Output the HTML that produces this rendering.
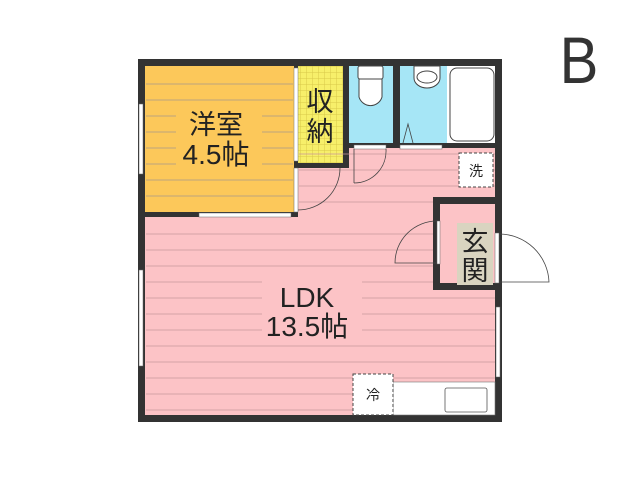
<!DOCTYPE html>
<html><head><meta charset="utf-8"><style>
html,body{margin:0;padding:0;background:#fff;}
svg{display:block;}
text{font-family:"Liberation Sans","Noto Sans CJK JP",sans-serif;}
</style></head><body>
<svg width="640" height="480" viewBox="0 0 640 480" xmlns="http://www.w3.org/2000/svg">
<defs>
<pattern id="grid" width="6" height="6" patternUnits="userSpaceOnUse">
<rect width="6" height="6" fill="#f7ef6a"/>
<path d="M0 0H6M0 0V6" stroke="#d8c84a" stroke-width="1" fill="none"/>
</pattern>
</defs>
<rect x="138" y="59" width="364" height="363" fill="#333"/>
<rect x="145" y="148" width="350" height="267" fill="#fcc3c6"/>
<rect x="145" y="66" width="149" height="146" fill="#fcc85a"/>
<rect x="298" y="66" width="45" height="97" fill="url(#grid)"/>
<rect x="349" y="66" width="44" height="77" fill="#a6e6f6"/>
<rect x="400" y="66" width="47" height="77" fill="#a6e6f6"/>
<rect x="447" y="66" width="48" height="77" fill="#fff"/>
<rect x="450" y="68" width="44" height="73" rx="7" fill="#fff" stroke="#444" stroke-width="1"/>
<rect x="294" y="66" width="4" height="151" fill="#333"/>
<rect x="145" y="212" width="153" height="5" fill="#333"/>
<rect x="298" y="163" width="51" height="5" fill="#333"/>
<rect x="343" y="66" width="6" height="102" fill="#333"/>
<rect x="393" y="66" width="7" height="82" fill="#333"/>
<rect x="349" y="143" width="146" height="5" fill="#333"/>
<g stroke="#a89a8a" stroke-width="0.8">
<line x1="146" y1="84" x2="293" y2="84"/><line x1="146" y1="100" x2="293" y2="100"/><line x1="146" y1="116" x2="293" y2="116"/><line x1="146" y1="132" x2="293" y2="132"/><line x1="146" y1="148" x2="293" y2="148"/><line x1="146" y1="164" x2="293" y2="164"/><line x1="146" y1="180" x2="293" y2="180"/><line x1="146" y1="196" x2="293" y2="196"/>
</g>
<g stroke="#c9989b" stroke-width="0.8">
<line x1="299" y1="154" x2="495" y2="154"/><line x1="299" y1="170" x2="495" y2="170"/><line x1="299" y1="186" x2="495" y2="186"/><line x1="299" y1="202" x2="495" y2="202"/>
<line x1="146" y1="234" x2="495" y2="234"/><line x1="146" y1="250" x2="495" y2="250"/><line x1="146" y1="266" x2="495" y2="266"/><line x1="146" y1="282" x2="495" y2="282"/><line x1="146" y1="298" x2="495" y2="298"/><line x1="146" y1="314" x2="495" y2="314"/><line x1="146" y1="330" x2="495" y2="330"/><line x1="146" y1="346" x2="495" y2="346"/><line x1="146" y1="362" x2="495" y2="362"/><line x1="146" y1="378" x2="495" y2="378"/><line x1="146" y1="394" x2="495" y2="394"/><line x1="146" y1="410" x2="495" y2="410"/>
</g>
<rect x="176" y="102" width="86" height="70" fill="#fcc85a"/>
<rect x="262" y="278" width="100" height="64" fill="#fcc3c6"/>
<rect x="433" y="197" width="69" height="93" fill="#333"/>
<rect x="440" y="204" width="55" height="79" fill="#fcc3c6"/>
<rect x="457" y="223" width="36" height="62" fill="#d9d4c0"/>
<rect x="437" y="221" width="3" height="43" fill="#fff" stroke="#666" stroke-width="0.5"/>
<path d="M437 221 A42 42 0 0 0 395 263 L437 263" fill="none" stroke="#444" stroke-width="0.8"/>
<rect x="495" y="233" width="4" height="50" fill="#fff" stroke="#666" stroke-width="0.5"/>
<path d="M499 234 A50 50 0 0 1 549 282 L499 282" fill="none" stroke="#444" stroke-width="0.8"/>
<rect x="294" y="168" width="4" height="44" fill="#fff" stroke="#666" stroke-width="0.5"/>
<path d="M298 210 A42 42 0 0 0 340 168" fill="none" stroke="#444" stroke-width="0.8"/>
<rect x="294" y="68" width="4" height="93" fill="#fff" stroke="#777" stroke-width="0.5"/>
<rect x="354" y="145" width="32" height="4" fill="#fff" stroke="#666" stroke-width="0.5"/>
<path d="M354 183 L354 149 M386 149 A32 32 0 0 1 354 183" fill="none" stroke="#444" stroke-width="0.8"/>
<rect x="400" y="145" width="42" height="4" fill="#fff" stroke="#666" stroke-width="0.5"/>
<path d="M403 143 L408 124 L413 143" fill="none" stroke="#444" stroke-width="0.8"/>
<rect x="199" y="213" width="92" height="4" fill="#fff" stroke="#666" stroke-width="0.5"/>
<rect x="139" y="104" width="4" height="70" fill="#fff" stroke="#666" stroke-width="0.5"/>
<rect x="139" y="270" width="4" height="96" fill="#fff" stroke="#666" stroke-width="0.5"/>
<rect x="496" y="307" width="4" height="70" fill="#fff" stroke="#666" stroke-width="0.5"/>
<rect x="358" y="66" width="25" height="13" rx="2" fill="#fff" stroke="#444" stroke-width="1"/>
<path d="M359 79 L359 97 A12 12 0 0 0 382 97 L382 79 Z" fill="#fff" stroke="#444" stroke-width="1"/>
<path d="M414 66 L414 78 A13 10 0 0 0 440 78 L440 66 Z" fill="#fff" stroke="#444" stroke-width="1"/>
<ellipse cx="427" cy="77" rx="10" ry="6" fill="#fff" stroke="#444" stroke-width="1"/>
<rect x="459" y="153" width="34" height="34" fill="#fff" stroke="#444" stroke-width="1" stroke-dasharray="3,2"/>
<text x="476" y="176" font-size="14" text-anchor="middle" fill="#222">洗</text>
<rect x="393" y="382" width="102" height="33" fill="#fff" stroke="#777" stroke-width="0.6"/>
<rect x="445" y="388" width="42" height="24" rx="2" fill="#fff" stroke="#555" stroke-width="0.8"/>
<rect x="353" y="374" width="40" height="41" fill="#fff" stroke="#444" stroke-width="1" stroke-dasharray="3,2"/>
<text x="373" y="400" font-size="14" text-anchor="middle" fill="#222">冷</text>
<text x="216" y="134" font-size="27" text-anchor="middle" fill="#222">洋室</text>
<text x="216" y="164" font-size="28" text-anchor="middle" fill="#222">4.5帖</text>
<text x="320" y="111" font-size="27" text-anchor="middle" fill="#222">収</text>
<text x="320" y="141" font-size="27" text-anchor="middle" fill="#222">納</text>
<text x="475" y="251" font-size="27" text-anchor="middle" fill="#222">玄</text>
<text x="475" y="280" font-size="27" text-anchor="middle" fill="#222">関</text>
<text x="307" y="307" font-size="28" text-anchor="middle" fill="#222">LDK</text>
<text x="307" y="336" font-size="28" text-anchor="middle" fill="#222">13.5帖</text>
<text x="579" y="83" font-size="66" text-anchor="middle" fill="#333" transform="translate(579 0) scale(0.88 1) translate(-579 0)">B</text>
</svg>
</body></html>
